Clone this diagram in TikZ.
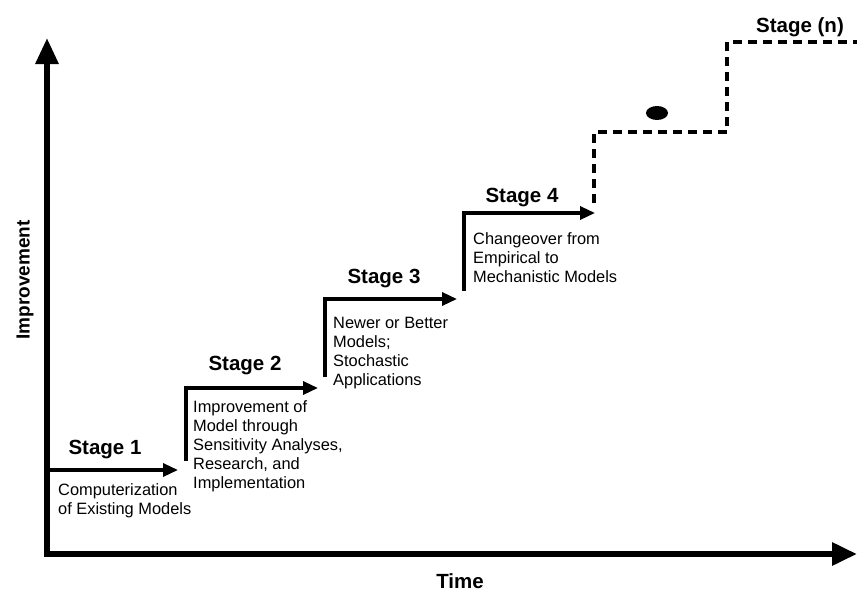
\documentclass[tikz,border=0pt]{standalone}
\usepackage{fontspec}
\setmainfont{Liberation Sans}
\usetikzlibrary{arrows.meta}
\begin{document}
\begin{tikzpicture}[x=1pt, y=-1pt,
    axis/.style = {line width=6pt, line join=miter},
    stair/.style = {line width=3.3pt, line join=miter, -{Triangle[length=15pt,width=13pt]}},
    future/.style = {line width=3.2pt, dash pattern=on 9pt off 6pt},
    stage/.style = {font=\fontsize{20.5}{24}\selectfont\bfseries, inner sep=0pt, anchor=base},
    note/.style = {font=\fontsize{16.4}{18.9}\selectfont, align=left, inner sep=0pt, anchor=base west}]
        \useasboundingbox (0,0) rectangle (857,597);
        %
        \coordinate (o) at (47,554);
        \coordinate (ytop) at (47,38);
        \coordinate (xend) at (857,554);
        \coordinate (b1) at (47,470);
        \coordinate (e1) at (178,470);
        \coordinate (b2) at (186,461);
        \coordinate (e2) at (318,388);
        \coordinate (b3) at (325,377);
        \coordinate (e3) at (457,299);
        \coordinate (b4) at (464,291);
        \coordinate (e4) at (595,213);
        \coordinate (b5) at (594,203);
        \coordinate (c5) at (727,132);
        \coordinate (e5) at (857,42);
        %
        \draw[axis, {Triangle[length=26pt,width=22pt]}-{Triangle[length=25pt,width=22pt]}] (ytop) -- (o) -- (xend);
        \draw[stair] (b1) -- (e1);
        \draw[stair] (b2) |- (e2);
        \draw[stair] (b3) |- (e3);
        \draw[stair] (b4) |- (e4);
        \draw[future] (b5) |- (c5) |- (e5);
        \fill (657,113) ellipse [x radius=11pt, y radius=7pt];
        %
        \node[stage] (st1) at (105,454) {Stage 1};
        \node[stage] (st2) at (245,370) {Stage 2};
        \node[stage] (st3) at (384,283) {Stage 3};
        \node[stage] (st4) at (522,202) {Stage 4};
        \node[stage] (stn) at (800,32) {Stage (n)};
        %
        % anchor is the baseline of the last line
        \node[note] (n1) at (58,514) {Computerization\\of Existing Models};
        \node[note] (n2) at (193,488) {Improvement of\\Model through\\Sensitivity Analyses,\\Research, and\\Implementation};
        \node[note] (n3) at (333,385) {Newer or Better\\Models;\\Stochastic\\Applications};
        \node[note] (n4) at (473,282) {Changeover from\\Empirical to\\Mechanistic Models};
        %
        \node[stage, font=\fontsize{19}{22}\selectfont\bfseries, anchor=center, rotate=90] (ylab) at (25,280) {Improvement};
        \node[stage] (xlab) at (460,588) {Time};
\end{tikzpicture}
\end{document}
